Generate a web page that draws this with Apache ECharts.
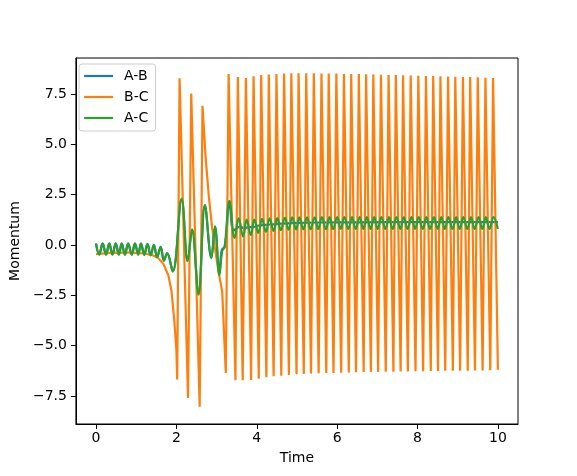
<!DOCTYPE html>
<html>
<head>
<meta charset="utf-8">
<script src="https://cdn.jsdelivr.net/npm/echarts@6/dist/echarts.min.js"></script>
<style>
  html, body { margin: 0; padding: 0; background: #fff; }
  #chart { width: 577px; height: 476px; }
</style>
</head>
<body>
<div id="chart"></div>
<script>
// series names
const names = ['A-B', 'B-C', 'A-C']

// B-C momentum, read at the turning points
const bcTime = [0, 0.3, 0.6, 0.9, 1.2, 1.4, 1.55, 1.68, 1.8, 1.88, 1.95, 2.0, 2.02, 2.08, 2.29, 2.37, 2.58, 2.65,
  2.73, 2.81, 2.89, 2.97, 3.06, 3.14, 3.23, 3.30, 3.47, 3.53, 3.65, 3.73, 3.86, 3.92, 4.05, 4.11, 4.24, 4.30,
  4.42, 4.49, 4.61, 4.68, 4.80, 4.86, 4.99, 5.04, 5.17, 5.23, 5.35, 5.42, 5.54, 5.61, 5.73, 5.79, 5.91, 5.98,
  6.10, 6.17, 6.29, 6.35, 6.47, 6.54, 6.66, 6.72, 6.84, 6.90, 7.02, 7.09, 7.21, 7.28, 7.40, 7.46, 7.58, 7.64,
  7.76, 7.83, 7.95, 8.02, 8.14, 8.21, 8.33, 8.39, 8.51, 8.57, 8.69, 8.76, 8.88, 8.94, 9.06, 9.13, 9.25, 9.31,
  9.43, 9.50, 9.62, 9.69, 9.81, 9.88, 10.0]
const bcMomentum = [-0.45, -0.4, -0.38, -0.38, -0.42, -0.5, -0.65, -0.95, -1.5, -2.3, -3.8, -5.2, -6.68, 8.28, -7.6, 7.52, -8.03, 6.92,
  4.3, 2.35, 0.85, -0.3, -1.45, -2.3, -6.36, 8.5, -6.72, 8.35, -6.72, 8.3, -6.7, 8.38, -6.64, 8.45, -6.57, 8.47,
  -6.52, 8.5, -6.49, 8.52, -6.45, 8.53, -6.42, 8.53, -6.4, 8.53, -6.38, 8.53, -6.37, 8.52, -6.36, 8.52, -6.35, 8.52,
  -6.34, 8.5, -6.33, 8.5, -6.32, 8.49, -6.31, 8.48, -6.3, 8.47, -6.3, 8.46, -6.29, 8.45, -6.29, 8.44, -6.28, 8.43,
  -6.28, 8.42, -6.27, 8.41, -6.27, 8.4, -6.26, 8.39, -6.26, 8.38, -6.25, 8.37, -6.25, 8.36, -6.24, 8.35, -6.24, 8.34,
  -6.23, 8.33, -6.23, 8.31, -6.22, 8.3, -6.2]

// A-C momentum, read at the turning points
const acTime = [0, 0.08, 0.165, 0.25, 0.33, 0.41, 0.49, 0.57, 0.64, 0.72, 0.80, 0.89, 0.97, 1.05, 1.12, 1.20,
  1.28, 1.36, 1.44, 1.52, 1.61, 1.69, 1.77, 1.91, 2.13, 2.28, 2.39, 2.55, 2.71, 2.87, 2.96, 3.07, 3.14, 3.20,
  3.32, 3.45, 3.55, 3.66, 3.75, 3.85, 3.94, 4.04, 4.13, 4.23, 4.32, 4.42, 4.51, 4.60, 4.70, 4.79, 4.88, 4.98,
  5.06, 5.16, 5.25, 5.34, 5.44, 5.53, 5.62, 5.72, 5.81, 5.90, 6.00, 6.09, 6.18, 6.28, 6.37, 6.46, 6.56, 6.65,
  6.74, 6.83, 6.92, 7.01, 7.10, 7.20, 7.29, 7.38, 7.48, 7.57, 7.66, 7.75, 7.85, 7.94, 8.03, 8.13, 8.22, 8.31,
  8.41, 8.50, 8.59, 8.68, 8.77, 8.87, 8.96, 9.05, 9.14, 9.24, 9.33, 9.42, 9.52, 9.61, 9.70, 9.79, 9.89, 10.0]
const acMomentum = [0.07, -0.48, 0.07, -0.48, 0.07, -0.48, 0.07, -0.48, 0.07, -0.48, 0.07, -0.48, 0.07, -0.48, 0.07, -0.49,
  0.05, -0.51, 0.0, -0.6, -0.1, -0.78, -0.42, -1.32, 2.3, -0.8, 0.78, -2.47, 2.0, -0.65, 0.93, -1.5, -0.3, -0.1,
  2.2, 0.35, 1.32, 0.42, 1.26, 0.5, 1.26, 0.6, 1.3, 0.66, 1.32, 0.7, 1.34, 0.74, 1.36, 0.76, 1.37, 0.77,
  1.38, 0.78, 1.38, 0.78, 1.38, 0.79, 1.39, 0.79, 1.39, 0.79, 1.39, 0.8, 1.39, 0.8, 1.39, 0.8, 1.39, 0.8,
  1.39, 0.8, 1.39, 0.8, 1.39, 0.8, 1.39, 0.8, 1.39, 0.8, 1.39, 0.8, 1.39, 0.8, 1.39, 0.8, 1.39, 0.8,
  1.39, 0.8, 1.39, 0.8, 1.39, 0.8, 1.39, 0.8, 1.39, 0.8, 1.39, 0.8, 1.39, 0.8, 1.39, 0.8, 1.39, 0.8]

// A-B momentum: follows A-C early, settles near 1.1 later
const abTime = [0, 0.08, 0.165, 0.25, 0.33, 0.41, 0.49, 0.57, 0.64, 0.72, 0.80, 0.89, 0.97, 1.05, 1.12, 1.20,
  1.28, 1.36, 1.44, 1.52, 1.61, 1.69, 1.77, 1.91, 2.13, 2.28, 2.39, 2.55, 2.71, 2.87, 2.96, 3.07, 3.13, 3.21,
  3.32, 3.42, 3.50, 3.60, 3.70, 3.80, 3.90, 4.0, 4.2, 4.4, 4.6, 5.0, 5.5, 6.5, 8.0, 10.0]
const abMomentum = [0.08, -0.47, 0.08, -0.47, 0.08, -0.47, 0.08, -0.47, 0.08, -0.47, 0.08, -0.47, 0.08, -0.47, 0.08, -0.48,
  0.06, -0.5, 0.01, -0.59, -0.09, -0.77, -0.4, -1.3, 2.25, -0.78, 0.76, -2.42, 1.95, -0.62, 0.9, -1.4, -0.25, -0.05,
  2.1, 0.7, 0.85, 0.9, 0.82, 0.9, 0.88, 0.95, 1.0, 1.03, 1.06, 1.1, 1.12, 1.13, 1.14, 1.14]

// tick positions
const xTicks = [0, 2, 4, 6, 8, 10]
const yTicks = [-7.5, -5.0, -2.5, 0.0, 2.5, 5.0, 7.5]

const zip = (xs, ys) => xs.map((x, i) => [x, ys[i]])

const font = 'DejaVu Sans'
const chart = echarts.init(document.getElementById('chart'))

chart.setOption({
  animation: false,
  textStyle: { fontFamily: font },
  grid: {
    left: 72, right: 59, top: 58, bottom: 52,
    show: true, borderColor: '#000', borderWidth: 1, backgroundColor: 'transparent'
  },
  legend: {
    data: names,
    orient: 'vertical',
    left: 79, top: 64,
    itemWidth: 29, itemHeight: 14, itemGap: 7,
    padding: [5, 7, 6, 4],
    backgroundColor: 'rgba(255,255,255,0.8)',
    borderColor: '#cccccc', borderWidth: 1, borderRadius: 3,
    itemStyle: { opacity: 0 },
    lineStyle: { width: 2.2 },
    textStyle: { fontFamily: font, fontSize: 14, color: '#000', padding: [0, 0, 0, 6] }
  },
  xAxis: {
    type: 'value', min: -0.5, max: 10.5,
    name: 'Time', nameLocation: 'middle', nameGap: 27,
    nameTextStyle: { fontFamily: font, fontSize: 14, color: '#000' },
    axisLine: { show: true, onZero: false, lineStyle: { color: '#000', width: 1 } },
    axisTick: { show: true, inside: false, length: 5, customValues: xTicks, lineStyle: { color: '#000', width: 1 } },
    axisLabel: { customValues: xTicks, margin: 7, fontFamily: font, fontSize: 14, color: '#000' },
    splitLine: { show: false }
  },
  yAxis: {
    type: 'value', min: -8.89, max: 9.29,
    name: 'Momentum', nameLocation: 'middle', nameGap: 44, nameRotate: 90,
    nameTextStyle: { fontFamily: font, fontSize: 14, color: '#000' },
    axisLine: { show: true, onZero: false, lineStyle: { color: '#000', width: 1 } },
    axisTick: { show: true, inside: false, length: 5, customValues: yTicks, lineStyle: { color: '#000', width: 1 } },
    axisLabel: {
      customValues: yTicks, margin: 9, fontFamily: font, fontSize: 14, color: '#000',
      formatter: v => v.toFixed(1).replace('-', '\u2212')
    },
    splitLine: { show: false }
  },
  series: [
    {
      name: names[0], type: 'line', data: zip(abTime, abMomentum),
      symbol: 'none', smooth: 0.4, color: '#1f77b4', lineStyle: { width: 2.2 }
    },
    {
      name: names[1], type: 'line', data: zip(bcTime, bcMomentum),
      symbol: 'none', color: '#ff7f0e', lineStyle: { width: 2.2 }
    },
    {
      name: names[2], type: 'line', data: zip(acTime, acMomentum),
      symbol: 'none', smooth: 0.4, color: '#2ca02c', lineStyle: { width: 2.2 }
    }
  ]
})
</script>
</body>
</html>
